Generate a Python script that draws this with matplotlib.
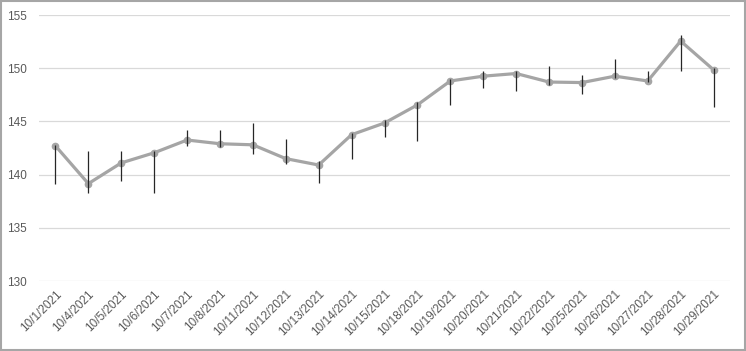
"""Graphique haut/bas/clôture d'octobre 2021, style Excel."""

import matplotlib
matplotlib.use("Agg")
import matplotlib.pyplot as plt
from matplotlib.patches import Rectangle
import numpy as np

dates = [
    "10/1/2021", "10/4/2021", "10/5/2021", "10/6/2021", "10/7/2021",
    "10/8/2021", "10/11/2021", "10/12/2021", "10/13/2021", "10/14/2021",
    "10/15/2021", "10/18/2021", "10/19/2021", "10/20/2021", "10/21/2021",
    "10/22/2021", "10/25/2021", "10/26/2021", "10/27/2021", "10/28/2021",
    "10/29/2021",
]
high = [142.8, 142.2, 142.2, 142.2, 144.2, 144.2, 144.85, 143.3, 141.3, 143.9,
        145.15, 146.8, 149.0, 149.7, 149.7, 150.2, 149.4, 150.9, 149.7, 153.1,
        150.0]
low = [139.15, 138.3, 139.4, 138.3, 142.7, 142.6, 141.9, 141.0, 139.2, 141.5,
       143.55, 143.2, 146.55, 148.1, 147.9, 148.45, 147.6, 149.1, 148.7, 149.75,
       146.4]
close = [142.7, 139.15, 141.1, 142.05, 143.25, 142.9, 142.8, 141.5, 140.9, 143.75,
         144.85, 146.55, 148.8, 149.25, 149.5, 148.7, 148.65, 149.25, 148.8, 152.55,
         149.85]

yticks = [130, 135, 140, 145, 150, 155]

GRIS_TEXTE = "#595959"


def main():
    plt.rcParams["font.family"] = ["Liberation Sans", "DejaVu Sans"]
    fig = plt.figure(figsize=(7.46, 3.51), dpi=100)
    ax = fig.add_axes([39 / 746, 1 - 281 / 351, 691 / 746, 266 / 351])

    x = np.arange(len(dates))
    ax.plot(x, close, color="#a5a5a5", lw=2.3, marker="o", markersize=4.5,
            markerfacecolor="#a5a5a5", markeredgecolor="#a5a5a5", zorder=3)
    ax.vlines(x, low, high, color="#262626", lw=0.9, zorder=4)

    ax.set_xlim(-0.5, len(dates) - 0.5)
    ax.set_ylim(130, 155)
    ax.set_yticks(yticks)
    ax.set_xticks(x)
    ax.set_xticklabels(dates, rotation=45, ha="right", rotation_mode="anchor")

    ax.grid(axis="y", color="#d9d9d9", lw=0.9)
    ax.set_axisbelow(True)
    for spine in ax.spines.values():
        spine.set_visible(False)
    ax.tick_params(axis="both", length=0, labelsize=8.5, labelcolor=GRIS_TEXTE)
    ax.tick_params(axis="y", pad=9)
    ax.tick_params(axis="x", pad=5)

    fig.patches.append(Rectangle((0.001, 0.002), 0.997, 0.995, transform=fig.transFigure,
                                 fill=False, edgecolor="#a6a6a6", lw=1.5))

    fig.savefig("out.png", dpi=100)
    plt.close(fig)


if __name__ == "__main__":
    main()
